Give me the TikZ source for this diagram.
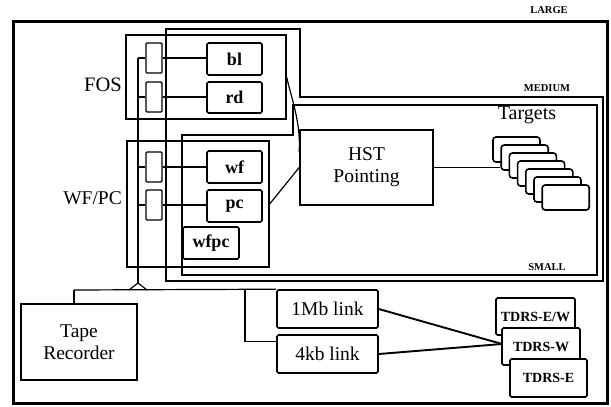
\documentclass[tikz,border=0pt]{standalone}
\usepackage{fontspec}
\setmainfont{Liberation Serif}
\usetikzlibrary{calc}
\begin{document}
\begin{tikzpicture}[x=1pt,y=-1pt,
  box/.style={draw, line width=1.6pt, inner sep=0pt, rounded corners=1.5pt},
  grp/.style={draw, line width=1.3pt, inner sep=0pt},
  mux/.style={draw, line width=1.3pt, minimum width=16pt, minimum height=30pt, inner sep=0pt, rounded corners=1pt},
  unitbox/.style={box, minimum width=55pt, minimum height=32pt, font=\bfseries\fontsize{18}{20}\selectfont},
  bigtxt/.style={font=\fontsize{19.5}{22}\selectfont, align=center},
  region/.style={line width=1.4pt},
  wire/.style={line width=1.2pt},
  lvl/.style={font=\bfseries\fontsize{10.5}{11}\selectfont, inner sep=0pt},
  card/.style={draw, fill=white, line width=1.6pt, rounded corners=3pt, minimum width=47pt, minimum height=25pt, inner sep=0pt},
  tdrs/.style={box, fill=white, font=\bfseries\fontsize{14}{16}\selectfont, minimum height=37pt},
  link/.style={line width=1.9pt}
]
\useasboundingbox (0,0) rectangle (611,407);
% outer LARGE box
\draw[line width=3pt] (13,21) rectangle (607,403);
\node[lvl] (large) at (549,10) {LARGE};
% MEDIUM and SMALL regions
\draw[region] (166,29) -- (300,29) -- (300,97) -- (603,97) -- (603,281) -- (166,281) -- cycle;
\node[lvl] (medium) at (547,88) {MEDIUM};
\draw[region] (182,135) -- (293,135) -- (293,105) -- (597,105) -- (597,275) -- (182,275) -- cycle;
\node[lvl] (small) at (547,267) {SMALL};
% FOS group
\node[grp, minimum width=160pt, minimum height=84pt] (fos) at (206,77) {};
\node[bigtxt, font=\fontsize{20.5}{22}\selectfont, anchor=east, inner sep=0pt] (fosl) at (122,85) {FOS};
\node[mux] (m1) at (154,58) {};
\node[mux] (m2) at (154,97) {};
\node[unitbox] (bl) at (234.5,59) {bl};
\node[unitbox, minimum height=31pt] (rd) at (234.5,97.5) {rd};
% WF/PC group
\node[grp, minimum width=142pt, minimum height=126pt] (wfpcbox) at (198,204) {};
\node[bigtxt, anchor=east, inner sep=0pt] (wfpcl) at (122,198) {WF/PC};
\node[mux] (m3) at (154,167) {};
\node[mux] (m4) at (154,205) {};
\node[unitbox] (wf) at (234.5,167) {wf};
\node[unitbox] (pc) at (234.5,206) {pc};
\node[unitbox, minimum width=56pt] (wfpc) at (211,243) {wfpc};
% mux to instruments
\draw[wire] (m1.east) -- (m1.east -| bl.west);
\draw[wire] (m2.east) -- (m2.east -| rd.west);
\draw[wire] (m3.east) -- (m3.east -| wf.west);
\draw[wire] (m4.east) -- (m4.east -| pc.west);
% bus
\coordinate (apex) at (138,283);
\coordinate (tri) at (138,290);
\draw[wire] (m1.west) -- (m1.west -| apex);
\draw[wire] (m2.west) -- (m2.west -| apex);
\draw[wire] (m3.west) -- (m3.west -| apex);
\draw[wire] (m4.west) -- (m4.west -| apex);
\draw[wire] (m1.west -| apex) -- (apex);
\draw[wire] ($(tri)+(-9,0)$) -- (apex) -- ($(tri)+(9,0)$);
% HST pointing
\node[box, rounded corners=0pt, minimum width=133pt, minimum height=75pt, bigtxt] (hst) at (366.5,167.5) {HST\\Pointing};
\draw[wire] (fos.east) .. controls (291,97) and (301,122) .. ($(hst.north west)!0.3!(hst.south west)$);
\draw[wire] (wfpcbox.east) -- (hst.west);
% Targets
\node[bigtxt, font=\fontsize{20}{22}\selectfont] (targets) at (527,115) {Targets};
\foreach \i in {0,...,6} {
  \node[card] (t\i) at ({516.5+8.2*\i},{149.5+8*\i}) {};
}
\draw[wire] (hst.east) -- (hst.east -| t1.west);
% Tape recorder and links
\node[box, rounded corners=0pt, minimum width=116pt, minimum height=76pt, bigtxt] (tape) at (79,342) {Tape\\Recorder};
\node[box, minimum width=101pt, minimum height=38pt, bigtxt] (mb) at (327.5,309) {1Mb link};
\node[box, minimum width=101pt, minimum height=38pt, bigtxt] (kb) at (327.5,354) {4kb link};
\coordinate (tapeup) at (74,290);
\coordinate (br) at (245,290);
\draw[wire] (tapeup) -- (tapeup |- tape.north);
\draw[wire] (tapeup) -- (mb.north west);
\draw[wire] (br) |- ([yshift=-7pt]kb.north west);
% TDRS
\draw[link] (mb.east) -- (502,344);
\draw[link] (kb.east) -- (502,344);
\node[tdrs, minimum width=79pt] (tew) at (535.5,316.5) {TDRS-E/W};
\node[tdrs, minimum width=78pt] (tw) at (541,346.5) {TDRS-W};
\node[tdrs, minimum width=77pt, minimum height=38pt] (te) at (548.5,378) {TDRS-E};
\end{tikzpicture}
\end{document}
